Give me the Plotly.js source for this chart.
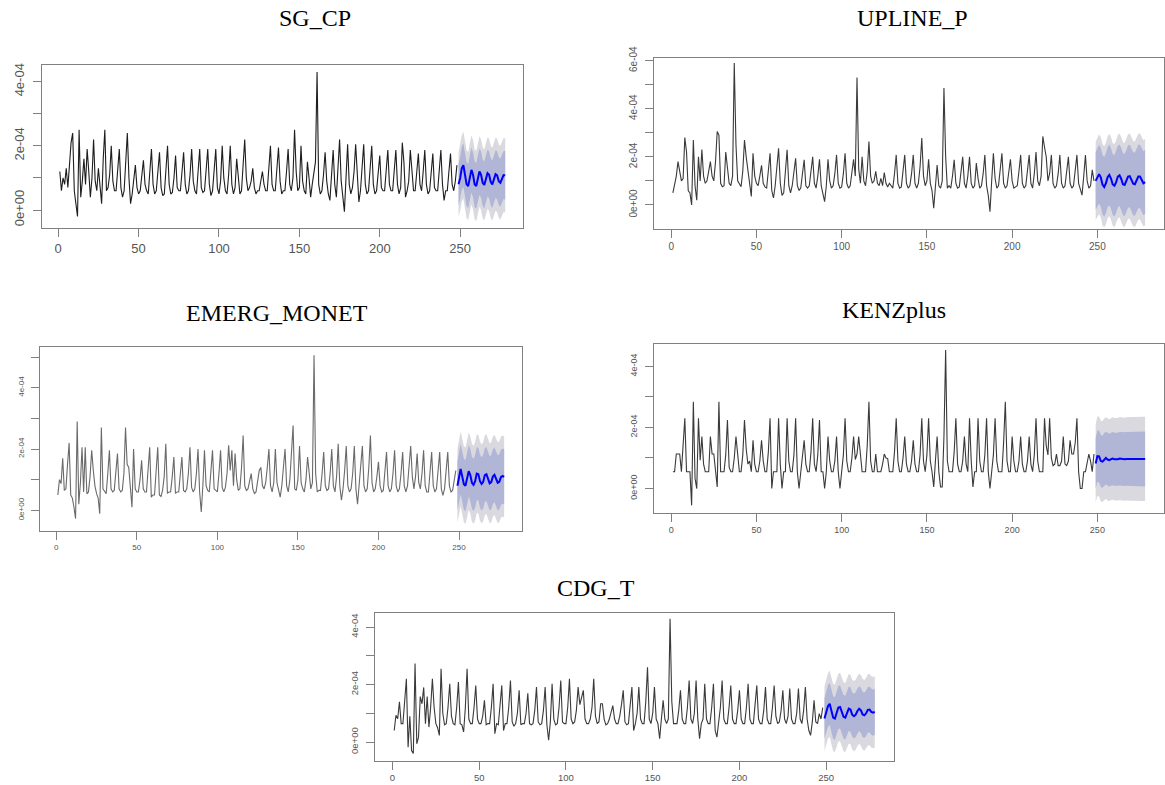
<!DOCTYPE html>
<html><head><meta charset="utf-8">
<script src="https://cdn.plot.ly/plotly-3.0.1.min.js"></script>
<style>html,body{margin:0;padding:0;background:#fff}#chart{width:1165px;height:785px}</style>
</head><body><div id="chart"></div>
<script>
// all series values in units of 1e-5
const SCALE = 1e-5;
const histStart = 1;   // first observation index
const fcStart = 249;   // first forecast index

const sgcp = [
12,6,10,8,13,7,14,21,24,6,
2,-2,25,4,9,16,8,19,12,4,
10,22,9,6,13,8,2,16,25,6,
7,11,20,9,6,6,13,19,7,4,
6,15,24,10,2,5,9,14,7,5,
6,10,15.5,8,6,5,12,19,8,5,
6,11,18,7,4.5,5,12,20,8,5,
5.5,10,17,7,6,6,12,18,8,5,
6,11,19,9,6,5,12,19,7,5.5,
6,12,19,8,4.5,6,13,19,7,5,
9,20,10,6,5,11,20,8,5,7,
16,9,5,6,13,22,10,6,7,9,
13,7,5,6,6,9,12,8,6,6,
13,20,8,6,6,12,19.5,9,5,6,
6,12,19,8,6,10,25,12,6,7,
20,9,6,5,15,10,4,8,12,15,
43,8,5,6,11,18,9,5,3,10,
18.7,8,4,13,22,9,3,-0.5,10,20.5,
8,5,7,12,20.5,9,2.5,6,13,20.5,
8,5,6,12,20,8,5,6,11,17,
7,6,6,12,18.7,8,6,6,12,18.7,
8,5,7,21,15,4,6,9,18.7,12,
6,6,11,17.6,8,6,12,18.7,8,5,
6,11,17.6,7,6,6,12,18.7,8,3,
6,6,12,17.6,8,6,9,14];
const sgcpFc = [8,10,13,14,11,8,7.5,10,12.5,11,8,7.5,9.5,12,11,8.5,7.8,9.5,11.5,11,8.8,8,9.5,11.2,10.8,9,8.5,9.8,10.9,10.8];
const sgcpW80 = [6.5,6.6,6.7,6.8,6.8,6.9,6.9,7,7,7,7.1,7.1,7.1,7.2,7.2,7.2,7.3,7.3,7.3,7.3,7.4,7.4,7.4,7.4,7.5,7.5,7.5,7.5,7.5,7.6];
const sgcpW95 = [10,10.2,10.3,10.4,10.5,10.6,10.6,10.7,10.8,10.8,10.9,10.9,11,11,11,11.1,11.1,11.2,11.2,11.2,11.3,11.3,11.3,11.4,11.4,11.4,11.5,11.5,11.5,11.6];

const upline = [
5,9,12,18,14,10,11,28,22,6,
5,0,27,8,2,20,10,23,12,9,
10,14,18,12,10,18,30.5,29,9,7.6,
8,22,15,9,8,12,59,25,10,9,
7.6,14,27,20,14,9,3.5,21.5,12,9,
8,12,16.5,9,7.5,7,14,21.5,6,2.9,
8,15,23.6,9,4,5,14,22.9,8,5,
8,13,19.4,8,6,7,12,18.8,8,7,
8,13,20,9,7,12,19,8,5,1.4,
8,19,10,7,8,13,20.8,9,7,7.5,
13,21.5,9,7,8,13,19,12,53,15,
9,20,10,8,14,26.4,12,9,10,14,
9,8,11,8,13.5,9,7.5,9,8,7,
13,20.8,9,7,7.5,13,20.8,9,7,8,
13,20.8,9,7,9,16,27.8,12,8,10,
19,9,6,-1.4,9,16.6,8,7,10,48.6,
20,7,8,7,12,18.75,9,7,7.5,13,
20,9,7,12,20,9,7,8,17.4,11,
7,8,13,20.8,8,4,-2.8,10,21.5,11,
7,8,14,21.5,9,7,8,13,19,10,
7,7.5,8,14,20.8,9,7,8,14,20.8,
9,7,13,22,10,8,12,28.5,24,20,
10,13,20.8,9,7,8,13,20.8,9,7,
8,13,20,9,7,8,14,20.8,9,6,
4.1,12,20.8,10,7,8,14.6,10];
const uplineFc = [10,11.5,12.8,11.5,8.5,7.5,9,11.5,12.5,11,8.5,8,9.5,11.8,12.3,10.8,8.6,8.3,9.8,11.8,12,10.5,8.8,8.6,10,11.8,11.8,10.3,9,9.5];
const uplineW80 = [12,12.1,12.2,12.3,12.4,12.4,12.5,12.5,12.6,12.6,12.7,12.7,12.8,12.8,12.8,12.9,12.9,12.9,13,13,13,13.1,13.1,13.1,13.2,13.2,13.2,13.2,13.3,13.3];
const uplineW95 = [16.3,16.4,16.6,16.7,16.8,16.9,17,17,17.1,17.2,17.2,17.3,17.3,17.4,17.4,17.5,17.5,17.5,17.6,17.6,17.7,17.7,17.7,17.8,17.8,17.8,17.9,17.9,17.9,18];

const emerg = [
5,10,8.7,17,6.5,7,15,22,5,4,
1,-2.7,29,2,9,20.6,6,20.6,5.4,6,
11,19.6,13,8,5.5,4,-1.1,27,7,6,
5.4,12,19.6,7,6,6.5,12,18.5,7,6,
6.5,12,27,15,14,6,1,20,7,6,
6,10,16.3,7,6,6,12,20.6,4.3,5,
5,12,20.6,5,4.5,6.5,11,21.7,5.5,6,
6,11,17.4,5.5,6,6,11,17.4,6.5,6,
7,12,20.6,7.5,6,7,12,20,6,-0.5,
8,19.6,8,6.5,6,12,19.6,7,6.5,6,
12,19.6,7.5,6,7.5,12,21.2,13,19.6,8,
18.5,10,6.5,7,14,24.4,8,6.5,7,10,
12,7,5.5,6,9,13,14,8,7,9,
14,20,8,6,9,20,9,6,4.3,8,
13,20,8,6,10,19,27.7,7,6.5,10,
21,9,7,6,10,17.4,12,7,9,50.6,
12,6,6.5,6.5,12,19,8,6.5,7,12,
20,8,6,11,21.7,8,3.3,7,13,21,
8,6,7,12,21,7,2,8,13,21,
8,6,7,14,24.4,9,6,7,11,15.8,
8,6,6.5,12,19,8,6,7,12,19.6,
8,6,7,12,19,8,6,8,14,21,
11,7,11,18.5,9,7,12,19.6,8,6,
6,12,19,8,6,7,12,19,7,4.9,
7,12,19,8,6,6.5,10,13];
const emergFc = [8,11,13.5,11,8.5,8,10,12.8,11.5,9,8.3,9.5,12,11.8,9.5,8.6,9.3,11.5,11.8,10,8.8,9.2,11,11.6,10.2,9,9.3,10.8,11.2,10.9];
const emergW80 = [8,8.1,8.2,8.2,8.3,8.3,8.4,8.4,8.5,8.5,8.5,8.6,8.6,8.6,8.7,8.7,8.7,8.8,8.8,8.8,8.8,8.9,8.9,8.9,8.9,9,9,9,9,9];
const emergW95 = [12,12.1,12.2,12.3,12.4,12.5,12.5,12.6,12.6,12.7,12.7,12.8,12.8,12.8,12.9,12.9,12.9,13,13,13,13,13.1,13.1,13.1,13.1,13.2,13.2,13.2,13.2,13.3];

const kenz = [
5.5,5.5,11.3,11.3,11.3,5.5,14,23,5.5,5.5,
5.5,-5.5,28.4,3.3,0,23,9.3,17,8,5.5,
5.5,5.5,17,11.3,11.3,5.5,0.5,28.4,5.5,5.5,
5.5,11,22.4,7,5.5,5.5,10,17,11,5.5,
5.5,11,22.4,13,8,9,5.5,15.8,8,5.5,
5.5,9,15.8,9,5.5,5.5,12,23,0,5.5,
5.5,5.5,23,8,0,5.5,5.5,23,9,5.5,
5.5,11,23,5.5,0,5.5,9,15.8,8,5.5,
5.5,12,23,8,5.5,11,22.4,5.5,5.5,0,
5.5,17,9,5.5,5.5,9,17,5.5,0,5.5,
11,23,9,5.5,5.5,10,17,9.5,11.3,17,
10,5.5,5.5,5.5,14,28.4,9,5.5,5.5,11.3,
5.5,5.5,5.5,8,11.3,10,9.8,5.5,5.5,5.5,
12,23,9,5.5,5.5,10,17,8,5.5,5.5,
9,15.8,8,5.5,5.5,11,23,9,5.5,11,
23,9,5.5,0.5,9,17,5.5,0.5,0.5,17,
45.3,9,5.5,5.5,5.5,12,23,8,5.5,5.5,
9,17,8,5.5,23,9,0.5,5.5,5.5,23,
9,5.5,5.5,11,23,5.5,0,5.5,11,23,
9,5.5,5.5,5.5,15,28.4,9,5.5,5.5,17,
9,5.5,5.5,9,17,8,5.5,5.5,9,17,
8,5.5,11,23,9,5.5,5.5,5.5,23,14,
11,23,10,7.5,8,11.3,7.5,7.5,9,17,
8,7.5,9,15.8,11.3,11.3,15,23,5.5,0,
0,5.5,5.5,8,11.3,9,5.5,11.3];
const kenzFc = [8.2,10.6,10.5,9,8.8,9.6,10,9.5,9.3,9.6,9.8,9.6,9.5,9.6,9.8,9.7,9.6,9.6,9.7,9.7,9.6,9.7,9.7,9.7,9.6,9.7,9.7,9.7,9.7,9.7];
const kenzW80 = [8.3,8.4,8.5,8.5,8.5,8.6,8.6,8.6,8.6,8.7,8.7,8.7,8.7,8.7,8.8,8.8,8.8,8.8,8.8,8.8,8.9,8.9,8.9,8.9,8.9,8.9,8.9,9,9,9];
const kenzW95 = [12.8,13,13.1,13.2,13.2,13.3,13.3,13.4,13.4,13.4,13.5,13.5,13.5,13.5,13.6,13.6,13.6,13.6,13.6,13.7,13.7,13.7,13.7,13.7,13.7,13.8,13.8,13.8,13.8,13.8];

const cdg = [
4,9.3,8.1,14,6.4,6.4,14,22,-1.8,9,
-3,-4,27.3,-0.6,1.7,15.8,13.3,19,6.4,15.8,
5.2,12,22,12,6.4,5,2.3,25.5,10,6,
6.4,12,20.3,9,6.4,6,12,20.9,6.4,6,
3.5,12,25.5,8,6.4,6.4,12,19.7,8,6.4,
6.4,9,14.5,6,6.4,6.4,12,20.3,2.9,6.4,
6,12,19.7,4,6.4,6.4,12,21.4,7,5.5,
6.4,10,18,6,6.4,6.4,10,17,6.4,6,
6.4,11,19.1,7,6,6.4,11,19.1,6,0.6,
7,20.3,8,6,6.4,12,21.4,7,6.4,6.4,
12,22,8,6.4,7,11,19.1,13,15.8,18,
8,6.4,6.4,8,12,22,9,6.4,7,13.3,
13.3,8,6,6.4,8,10,12.7,8,6.4,6.4,
9,13,18,7,6,6.4,12,19.1,4,6.4,
10,19.1,8,6.4,6.4,14,26,8,6.4,10,
19.1,8,6.4,1.2,8,14.5,8,6.4,8,42.9,
14,6.4,6.4,6.4,11,18,8,6.4,6.4,12,
21.4,8,6.4,10,21.4,8,1.2,6.4,8,20.3,
8,6.4,6.4,12,20.3,4,1.7,6.4,12,21.4,
8,6.4,6.4,12,19.7,8,6.4,6.4,11,18,
8,6.4,6.4,12,20.3,8,6.4,6.4,12,19.7,
8,6.4,6.4,11,19.1,8,6.4,6.4,12,19.7,
9,6.4,7,11,18,8,6.4,9,18.6,8,
6.4,6.4,10,18.6,8,6.4,11,19.1,8,4,
2.3,7,14.5,7,6.4,9.9,8,12];
const cdgFc = [8.2,10.5,12.5,13.3,11,8.5,8.2,10,12,12.2,10.5,8.8,8.5,10.2,11.6,11.3,9.5,9,9.5,10.8,11.6,11,9.6,9.3,10,11.2,11.3,10.5,10.2,10.5];
const cdgW80 = [7,7.1,7.2,7.3,7.3,7.4,7.4,7.5,7.5,7.5,7.6,7.6,7.6,7.7,7.7,7.7,7.7,7.8,7.8,7.8,7.8,7.9,7.9,7.9,7.9,7.9,8,8,8,8];
const cdgW95 = [11.2,11.3,11.4,11.5,11.6,11.7,11.7,11.8,11.8,11.9,11.9,12,12,12,12.1,12.1,12.1,12.2,12.2,12.2,12.2,12.3,12.3,12.3,12.3,12.4,12.4,12.4,12.4,12.4];

const titles = ['SG_CP','UPLINE_P','EMERG_MONET','KENZplus','CDG_T'];
const xTicks = [0,50,100,150,200,250];
const yTickLabels = ['0e+00','','2e-04','','4e-04','','6e-04'];

const W = 1165, H = 785;
const panels = [
  {hist:sgcp,  fc:sgcpFc,  w80:sgcpW80,  w95:sgcpW95,  box:[42,523,65,228],   yr:[-5.6,45.2], ymax:4, fs:13,  tx:315, ty:18,  lc:'#1e1e1e'},
  {hist:upline,fc:uplineFc,w80:uplineW80,w95:uplineW95,box:[654,1164,58,229], yr:[-10,61.1],  ymax:6, fs:10,  tx:912, ty:18,  lc:'#3a3a3a'},
  {hist:emerg, fc:emergFc, w80:emergW80, w95:emergW95, box:[40,522,347,531],  yr:[-6.75,53.3],ymax:5, fs:8,   tx:277, ty:313, lc:'#6a6a6a'},
  {hist:kenz,  fc:kenzFc,  w80:kenzW80,  w95:kenzW95,  box:[654,1164,344,513],yr:[-8,47.3],   ymax:4, fs:9,   tx:894, ty:310, lc:'#3a3a3a'},
  {hist:cdg,   fc:cdgFc,   w80:cdgW80,   w95:cdgW95,   box:[375,894,613,761], yr:[-6.6,44.9], ymax:4, fs:9.5, tx:596, ty:588, lc:'#3a3a3a'}
];

const data = [];
const layout = {
  width: W, height: H, margin:{l:0,r:0,t:0,b:0},
  paper_bgcolor:'#fff', plot_bgcolor:'#fff', showlegend:false, hovermode:false,
  annotations: []
};

panels.forEach((p, i) => {
  const n = i === 0 ? '' : String(i+1);
  const xa = 'x'+n, ya = 'y'+n;
  const xh = p.hist.map((_, k) => histStart + k);
  const xf = p.fc.map((_, k) => fcStart + k);
  const sc = v => v * SCALE;
  const lo95 = p.fc.map((v,k) => sc(v - p.w95[k]));
  const hi95 = p.fc.map((v,k) => sc(v + p.w95[k]));
  const lo80 = p.fc.map((v,k) => sc(v - p.w80[k]));
  const hi80 = p.fc.map((v,k) => sc(v + p.w80[k]));
  data.push({x:xf, y:lo95, xaxis:xa, yaxis:ya, type:'scatter', mode:'lines', line:{width:0, color:'rgba(0,0,0,0)'}});
  data.push({x:xf, y:hi95, xaxis:xa, yaxis:ya, type:'scatter', mode:'lines', line:{width:0, color:'rgba(0,0,0,0)'}, fill:'tonexty', fillcolor:'#d9d9df'});
  data.push({x:xf, y:lo80, xaxis:xa, yaxis:ya, type:'scatter', mode:'lines', line:{width:0, color:'rgba(0,0,0,0)'}});
  data.push({x:xf, y:hi80, xaxis:xa, yaxis:ya, type:'scatter', mode:'lines', line:{width:0, color:'rgba(0,0,0,0)'}, fill:'tonexty', fillcolor:'#b1b5d6'});
  data.push({x:xh, y:p.hist.map(sc), xaxis:xa, yaxis:ya, type:'scatter', mode:'lines', line:{width:1.1, color:p.lc}});
  data.push({x:xf, y:p.fc.map(sc), xaxis:xa, yaxis:ya, type:'scatter', mode:'lines', line:{width:2, color:'#0000ff'}});

  const [x0,x1,y0,y1] = p.box;
  const yv = [], yt = [];
  for (let k = 0; k <= p.ymax; k++) { yv.push(k*1e-4); yt.push(yTickLabels[k]); }
  const common = {showline:true, mirror:true, linecolor:'#808080', linewidth:1, ticks:'outside', ticklen:8,
                  tickcolor:'#808080', tickwidth:1, showgrid:false, zeroline:false,
                  tickfont:{family:'Liberation Sans, Arial, sans-serif', size:p.fs, color:'#555'}};
  layout['xaxis'+n] = Object.assign({}, common, {domain:[x0/W, x1/W], anchor:ya, range:[-10.08,289.08],
                  tickmode:'array', tickvals:xTicks});
  layout['yaxis'+n] = Object.assign({}, common, {domain:[1-y1/H, 1-y0/H], anchor:xa, range:[sc(p.yr[0]), sc(p.yr[1])],
                  tickmode:'array', tickvals:yv, ticktext:yt, tickangle:-90, ticklabelstandoff:4});
  layout.annotations.push({text:titles[i], xref:'paper', yref:'paper', x:p.tx/W, y:1-p.ty/H,
                  xanchor:'center', yanchor:'middle', showarrow:false,
                  font:{family:'Liberation Serif, Times New Roman, serif', size:24, color:'#000'}});
});

Plotly.newPlot('chart', data, layout, {staticPlot:true});
</script>
</body></html>
